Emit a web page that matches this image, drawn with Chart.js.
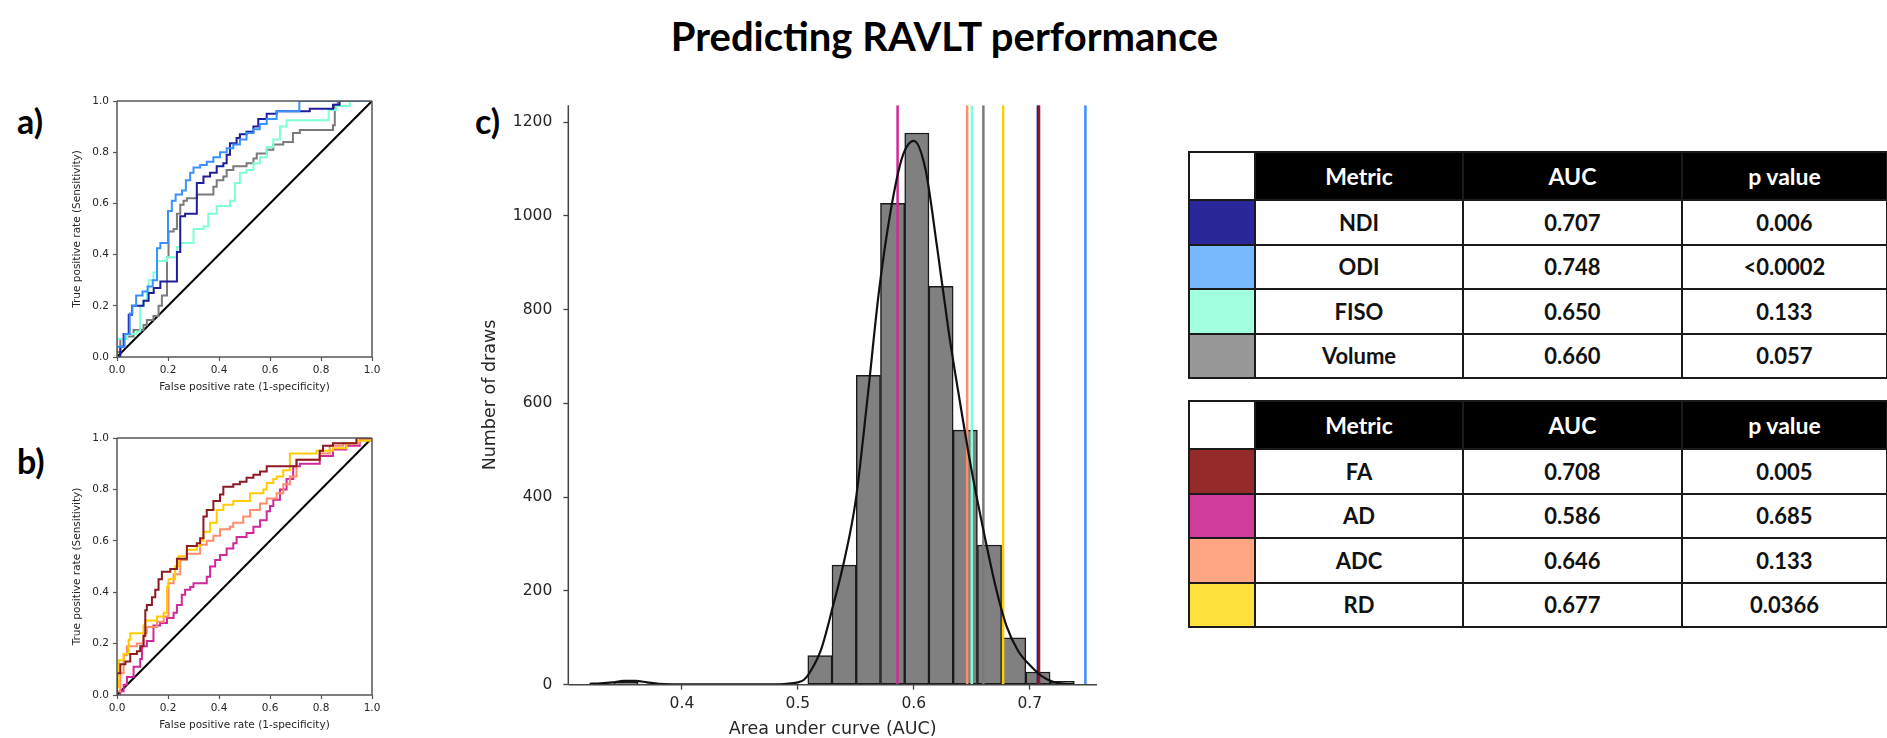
<!DOCTYPE html>
<html>
<head>
<meta charset="utf-8">
<script src="https://cdn.jsdelivr.net/npm/chart.js@4.4.1/dist/chart.umd.min.js"></script>
<style>
  html, body { margin: 0; padding: 0; background: #fff; }
  body { width: 1887px; height: 738px; position: relative; overflow: hidden; font-family: Lato, 'Open Sans', sans-serif; }
  .title { position: absolute; left: 1px; width: 1887px; top: 12px; text-align: center; font-weight: 700; font-size: 40px; line-height: 1.2; color: #000; }
  .panel-label { position: absolute; font-weight: 700; font-size: 34px; line-height: 1; color: #000; }
  canvas { position: absolute; }
  table.auc { position: absolute; border-collapse: collapse; table-layout: fixed; font-weight: 700; font-size: 22px; color: #111; }
  table.auc td, table.auc th { border: 2px solid #1a1a1a; text-align: center; padding: 0; }
  table.auc th { background: #000; color: #fff; font-size: 23px; }
  table.auc th.blank { background: #fff; }
  table.auc tr.head { height: 48px; }
  table.auc tr.row { height: 44.5px; }
</style>
</head>
<body>
<div class="title">Predicting RAVLT performance</div>
<div class="panel-label" style="left:17px; top:104px;">a)</div>
<div class="panel-label" style="left:17px; top:444px;">b)</div>
<div class="panel-label" style="left:475px; top:104px;">c)</div>

<canvas id="rocA" width="330" height="310" style="left:60px; top:90px;"></canvas>
<canvas id="rocB" width="330" height="311" style="left:60px; top:427px;"></canvas>
<canvas id="histC" width="670" height="660" style="left:440px; top:85px;"></canvas>

<table class="auc" id="table1" style="left:1188px; top:151px; width:698px;"></table>
<table class="auc" id="table2" style="left:1188px; top:400px; width:698px;"></table>

<script>
// Table data
const metrics = ['NDI', 'ODI', 'FISO', 'Volume', 'FA', 'AD', 'ADC', 'RD'];
const aucValues = [0.707, 0.748, 0.650, 0.660, 0.708, 0.586, 0.646, 0.677];
const pValues = ['0.006', '<0.0002', '0.133', '0.057', '0.005', '0.685', '0.133', '0.0366'];

// ROC curves (false positive rate / true positive rate), panel a
const ndiFpr = [0, 0, 0.013, 0.026, 0.046, 0.059, 0.104, 0.124, 0.144, 0.17, 0.235, 0.248, 0.267, 0.313, 0.339, 0.365, 0.391, 0.417, 0.43, 0.443, 0.469, 0.482, 0.508, 0.535, 0.554, 0.587, 0.626, 0.756, 0.847, 0.873, 1];
const ndiTpr = [0, 0, 0.04, 0.09, 0.165, 0.2, 0.22, 0.25, 0.27, 0.295, 0.41, 0.55, 0.56, 0.68, 0.705, 0.72, 0.745, 0.757, 0.79, 0.835, 0.855, 0.87, 0.88, 0.9, 0.93, 0.95, 0.96, 0.97, 0.985, 1, 1];
const odiFpr = [0, 0, 0.03, 0.05, 0.06, 0.075, 0.1, 0.12, 0.14, 0.157, 0.17, 0.2, 0.215, 0.23, 0.255, 0.27, 0.287, 0.3, 0.326, 0.352, 0.378, 0.404, 0.43, 0.456, 0.482, 0.508, 0.535, 0.56, 0.587, 0.626, 0.715, 1];
const odiTpr = [0, 0.04, 0.09, 0.17, 0.2, 0.24, 0.256, 0.275, 0.3, 0.425, 0.445, 0.57, 0.61, 0.635, 0.65, 0.69, 0.72, 0.74, 0.75, 0.763, 0.78, 0.8, 0.815, 0.83, 0.85, 0.875, 0.89, 0.91, 0.93, 0.96, 1, 1];
const fisoFpr = [0, 0, 0.04, 0.078, 0.091, 0.104, 0.117, 0.124, 0.143, 0.157, 0.196, 0.235, 0.248, 0.3, 0.339, 0.358, 0.391, 0.443, 0.463, 0.482, 0.508, 0.535, 0.561, 0.587, 0.613, 0.639, 0.665, 0.83, 0.86, 0.913, 1];
const fisoTpr = [0, 0.07, 0.09, 0.1, 0.2, 0.22, 0.25, 0.3, 0.33, 0.375, 0.39, 0.43, 0.445, 0.5, 0.51, 0.56, 0.59, 0.61, 0.68, 0.72, 0.73, 0.757, 0.78, 0.82, 0.85, 0.9, 0.925, 0.965, 0.98, 1, 1];
const volFpr = [0, 0, 0.013, 0.039, 0.065, 0.104, 0.117, 0.143, 0.163, 0.176, 0.196, 0.202, 0.222, 0.235, 0.248, 0.261, 0.274, 0.313, 0.378, 0.391, 0.417, 0.43, 0.456, 0.508, 0.535, 0.548, 0.587, 0.613, 0.652, 0.69, 0.717, 0.847, 0.854, 0.866, 1];
const volTpr = [0, 0.02, 0.07, 0.08, 0.105, 0.125, 0.145, 0.16, 0.2, 0.24, 0.39, 0.49, 0.5, 0.56, 0.595, 0.61, 0.62, 0.635, 0.665, 0.69, 0.705, 0.73, 0.745, 0.757, 0.775, 0.795, 0.81, 0.83, 0.84, 0.875, 0.887, 0.905, 0.985, 1, 1];

// ROC curves, panel b
const faFpr = [0, 0, 0.013, 0.033, 0.052, 0.078, 0.091, 0.104, 0.111, 0.117, 0.137, 0.15, 0.163, 0.176, 0.209, 0.235, 0.274, 0.313, 0.326, 0.339, 0.352, 0.378, 0.404, 0.417, 0.456, 0.482, 0.508, 0.535, 0.561, 0.587, 0.704, 0.795, 0.808, 0.847, 0.939, 1];
const faTpr = [0, 0.085, 0.12, 0.13, 0.16, 0.17, 0.19, 0.23, 0.33, 0.35, 0.38, 0.41, 0.45, 0.48, 0.49, 0.53, 0.58, 0.59, 0.61, 0.695, 0.72, 0.755, 0.78, 0.81, 0.82, 0.83, 0.845, 0.857, 0.87, 0.89, 0.915, 0.95, 0.97, 0.98, 1, 1];
const adFpr = [0, 0.013, 0.026, 0.039, 0.065, 0.091, 0.098, 0.117, 0.143, 0.169, 0.196, 0.222, 0.235, 0.254, 0.267, 0.287, 0.3, 0.352, 0.365, 0.385, 0.404, 0.43, 0.456, 0.469, 0.508, 0.535, 0.561, 0.587, 0.6, 0.613, 0.639, 0.665, 0.691, 0.717, 0.795, 0.847, 0.899, 0.952, 1];
const adTpr = [0, 0.015, 0.04, 0.07, 0.11, 0.14, 0.19, 0.21, 0.27, 0.28, 0.3, 0.32, 0.35, 0.39, 0.41, 0.42, 0.435, 0.46, 0.5, 0.525, 0.545, 0.57, 0.59, 0.615, 0.63, 0.655, 0.68, 0.715, 0.735, 0.76, 0.8, 0.84, 0.89, 0.9, 0.93, 0.955, 0.97, 0.995, 1];
const adcFpr = [0, 0, 0.013, 0.026, 0.039, 0.078, 0.104, 0.117, 0.157, 0.183, 0.202, 0.222, 0.248, 0.274, 0.326, 0.352, 0.378, 0.404, 0.443, 0.456, 0.495, 0.522, 0.561, 0.587, 0.626, 0.652, 0.678, 0.704, 0.795, 0.834, 0.887, 0.952, 1];
const adcTpr = [0, 0.015, 0.085, 0.155, 0.19, 0.2, 0.24, 0.265, 0.285, 0.305, 0.435, 0.47, 0.525, 0.55, 0.585, 0.6, 0.62, 0.645, 0.655, 0.67, 0.695, 0.72, 0.745, 0.765, 0.785, 0.82, 0.85, 0.915, 0.94, 0.97, 0.98, 0.99, 1];
const rdFpr = [0, 0, 0.007, 0.026, 0.046, 0.052, 0.104, 0.111, 0.157, 0.183, 0.196, 0.202, 0.228, 0.241, 0.274, 0.313, 0.326, 0.339, 0.365, 0.391, 0.417, 0.456, 0.522, 0.574, 0.587, 0.613, 0.626, 0.652, 0.678, 0.782, 0.847, 0.9, 0.939, 1];
const rdTpr = [0, 0.03, 0.135, 0.16, 0.215, 0.24, 0.27, 0.29, 0.305, 0.32, 0.42, 0.45, 0.5, 0.54, 0.565, 0.58, 0.6, 0.635, 0.67, 0.72, 0.74, 0.755, 0.785, 0.8, 0.825, 0.84, 0.85, 0.875, 0.94, 0.95, 0.96, 0.98, 0.99, 1];

// Null distribution of AUC (panel c)
const binCenters = [0.3309, 0.3518, 0.3727, 0.3936, 0.4145, 0.4354, 0.4563, 0.4772, 0.4981, 0.5190, 0.5399, 0.5608, 0.5817, 0.6026, 0.6235, 0.6444, 0.6653, 0.6862, 0.7071, 0.7280];
const binCounts = [2, 5, 1, 0, 0, 0, 0, 0, 0, 62, 255, 660, 1027, 1177, 850, 543, 298, 100, 27, 7];
const kdeX = [0.3204, 0.33, 0.34, 0.35, 0.36, 0.37, 0.38, 0.39, 0.40, 0.42, 0.45, 0.48, 0.49, 0.50, 0.505, 0.51, 0.52, 0.53, 0.54, 0.55, 0.56, 0.57, 0.58, 0.59, 0.60, 0.61, 0.62, 0.63, 0.64, 0.65, 0.66, 0.67, 0.68, 0.69, 0.70, 0.71, 0.72, 0.73, 0.7384];
const kdeY = [2, 3, 5, 8, 8, 5, 2, 1, 1, 0.5, 0.5, 1, 2, 5, 10, 25, 75, 165, 265, 395, 610, 840, 1010, 1125, 1160, 1100, 935, 755, 600, 455, 330, 215, 125, 72, 42, 19, 6, 2, 1];

// Tick labels
const rocTicks = [0, 0.2, 0.4, 0.6, 0.8, 1.0];
const histXTicks = [0.4, 0.5, 0.6, 0.7];
const histYTicks = [0, 200, 400, 600, 800, 1000, 1200];

// Colours
const lineColors = {
    NDI: '#1e1e9a', ODI: '#3a90ff', FISO: '#7fffd4', Volume: '#7a7a7a',
    FA: '#8b1a22', AD: '#d0299a', ADC: '#ff8c6c', RD: '#ffcc00'
};
const swatchColors = {
    NDI: '#2a279a', ODI: '#78b8ff', FISO: '#a2ffdf', Volume: '#989898',
    FA: '#952a2a', AD: '#d03c9c', ADC: '#ffa584', RD: '#ffe03c'
};

const tickFont = "'DejaVu Sans', sans-serif";
const textColor = '#262626';
const axisColor = '#555';

// Draws the axes box (all sides or a subset)
const framePlugin = {
    id: 'frame',
    afterDatasetsDraw(chart, args, opts) {
        const { ctx, chartArea: a } = chart;
        const sides = opts.sides || ['top', 'right', 'bottom', 'left'];
        ctx.save();
        ctx.strokeStyle = opts.color || axisColor;
        ctx.lineWidth = opts.width || 1.5;
        ctx.beginPath();
        if (sides.includes('top')) { ctx.moveTo(a.left, a.top); ctx.lineTo(a.right, a.top); }
        if (sides.includes('right')) { ctx.moveTo(a.right, a.top); ctx.lineTo(a.right, a.bottom); }
        if (sides.includes('bottom')) { ctx.moveTo(a.left, a.bottom); ctx.lineTo(a.right, a.bottom); }
        if (sides.includes('left')) { ctx.moveTo(a.left, a.top); ctx.lineTo(a.left, a.bottom); }
        ctx.stroke();
        ctx.restore();
    }
};

function rocDataset(name, fpr, tpr) {
    return {
        label: name,
        data: fpr.map((x, i) => ({ x: x, y: tpr[i] })),
        borderColor: lineColors[name],
        borderWidth: 2,
        pointRadius: 0,
        showLine: true,
        stepped: true,
        fill: false
    };
}

function rocScale(titleText, isX, size) {
    return {
        type: 'linear',
        min: 0, max: 1,
        afterBuildTicks: (scale) => { scale.ticks = rocTicks.map(v => ({ value: v })); },
        afterFit: (scale) => { if (isX) scale.height = size; else scale.width = size; },
        border: { display: false },
        grid: { drawOnChartArea: false, drawTicks: true, tickLength: 4, color: axisColor, tickWidth: 1.2 },
        ticks: {
            color: textColor, padding: isX ? 3 : 4, maxRotation: 0, autoSkip: false,
            font: { family: tickFont, size: 10.5 },
            callback: v => v.toFixed(1)
        },
        title: { display: true, text: titleText, color: textColor, font: { family: tickFont, size: 10.5 } }
    };
}

// Chart.js paints the first dataset last, so list the top-most curve first
function makeRoc(canvasId, datasets) {
    const diag = {
        label: 'chance',
        data: [{ x: 0, y: 0 }, { x: 1, y: 1 }],
        borderColor: '#000', borderWidth: 2, pointRadius: 0, showLine: true
    };
    return new Chart(document.getElementById(canvasId), {
        type: 'scatter',
        data: { datasets: datasets.concat([diag]) },
        options: {
            responsive: false, animation: false, devicePixelRatio: 1,
            layout: { padding: { left: 7.4, top: 11, right: 18, bottom: 2.7 } },
            plugins: { legend: { display: false }, tooltip: { enabled: false }, frame: { color: axisColor, width: 1.5 } },
            scales: {
                x: rocScale('False positive rate (1-specificity)', true, 40.3),
                y: rocScale('True positive rate (Sensitivity)', false, 49.6)
            }
        },
        plugins: [framePlugin]
    });
}

function buildTable(id, names) {
    const table = document.getElementById(id);
    const widths = [66, 208, 219, 205];
    const colgroup = document.createElement('colgroup');
    widths.forEach(w => {
        const col = document.createElement('col');
        col.style.width = w + 'px';
        colgroup.appendChild(col);
    });
    table.appendChild(colgroup);
    const head = document.createElement('tr');
    head.className = 'head';
    head.innerHTML = '<th class="blank"></th><th>Metric</th><th>AUC</th><th>p value</th>';
    table.appendChild(head);
    names.forEach(name => {
        const i = metrics.indexOf(name);
        const tr = document.createElement('tr');
        tr.className = 'row';
        tr.innerHTML = `
            <td style="background:${swatchColors[name]}"></td>
            <td>${name}</td>
            <td>${aucValues[i].toFixed(3)}</td>
            <td>${pValues[i].replace('<', '&lt;')}</td>`;
        table.appendChild(tr);
    });
}

function initCharts() {
    makeRoc('rocA', [
        rocDataset('ODI', odiFpr, odiTpr),
        rocDataset('NDI', ndiFpr, ndiTpr),
        rocDataset('FISO', fisoFpr, fisoTpr),
        rocDataset('Volume', volFpr, volTpr)
    ]);
    makeRoc('rocB', [
        rocDataset('FA', faFpr, faTpr),
        rocDataset('RD', rdFpr, rdTpr),
        rocDataset('ADC', adcFpr, adcTpr),
        rocDataset('AD', adFpr, adTpr)
    ]);

    const yMax = 1236;
    // top-most first
    const vOrder = ['ODI', 'FA', 'NDI', 'RD', 'Volume', 'FISO', 'ADC', 'AD'];
    const vLines = vOrder.map(name => ({
        type: 'line',
        label: name,
        data: [{ x: aucValues[metrics.indexOf(name)], y: 0 }, { x: aucValues[metrics.indexOf(name)], y: yMax }],
        borderColor: lineColors[name],
        borderWidth: 2.5,
        pointRadius: 0,
        order: 2
    }));

    new Chart(document.getElementById('histC'), {
        type: 'bar',
        data: {
            datasets: [
                {
                    type: 'bar',
                    label: 'draws',
                    data: binCenters.map((x, i) => ({ x: x, y: binCounts[i] })),
                    backgroundColor: '#808080',
                    borderColor: '#1a1a1a',
                    borderWidth: 1.5,
                    borderSkipped: false,
                    barPercentage: 1,
                    categoryPercentage: 1,
                    order: 3
                },
                ...vLines,
                {
                    type: 'line',
                    label: 'kde',
                    data: kdeX.map((x, i) => ({ x: x, y: kdeY[i] })),
                    borderColor: '#111',
                    borderWidth: 2.2,
                    pointRadius: 0,
                    cubicInterpolationMode: 'monotone',
                    order: 1
                }
            ]
        },
        options: {
            responsive: false, animation: false, devicePixelRatio: 1,
            layout: { padding: { left: 35.8, top: 13, right: 13, bottom: 0.8 } },
            plugins: { legend: { display: false }, tooltip: { enabled: false }, frame: { color: '#444', width: 1.5, sides: ['left', 'bottom'] } },
            scales: {
                x: {
                    type: 'linear', min: 0.302, max: 0.758, offset: false,
                    afterBuildTicks: (scale) => { scale.ticks = histXTicks.map(v => ({ value: v })); },
                    afterFit: (scale) => { scale.height = 59.5; },
                    border: { display: false },
                    grid: { offset: false, drawOnChartArea: false, drawTicks: true, tickLength: 5, color: '#444', tickWidth: 1.3 },
                    ticks: { color: textColor, padding: 5, maxRotation: 0, autoSkip: false, font: { family: tickFont, size: 15.5 }, callback: v => v.toFixed(1) },
                    title: { display: true, text: 'Area under curve (AUC)', color: textColor, font: { family: tickFont, size: 17.5 } }
                },
                y: {
                    type: 'linear', min: 0, max: yMax,
                    afterBuildTicks: (scale) => { scale.ticks = histYTicks.map(v => ({ value: v })); },
                    afterFit: (scale) => { scale.width = 92.5; },
                    border: { display: false },
                    grid: { drawOnChartArea: false, drawTicks: true, tickLength: 5, color: '#444', tickWidth: 1.3 },
                    ticks: { color: textColor, padding: 11, autoSkip: false, font: { family: tickFont, size: 15.5 }, callback: v => String(v) },
                    title: { display: true, text: 'Number of draws', color: textColor, font: { family: tickFont, size: 17.5 } }
                }
            }
        },
        plugins: [framePlugin]
    });
}

buildTable('table1', ['NDI', 'ODI', 'FISO', 'Volume']);
buildTable('table2', ['FA', 'AD', 'ADC', 'RD']);
initCharts();
</script>
</body>
</html>
